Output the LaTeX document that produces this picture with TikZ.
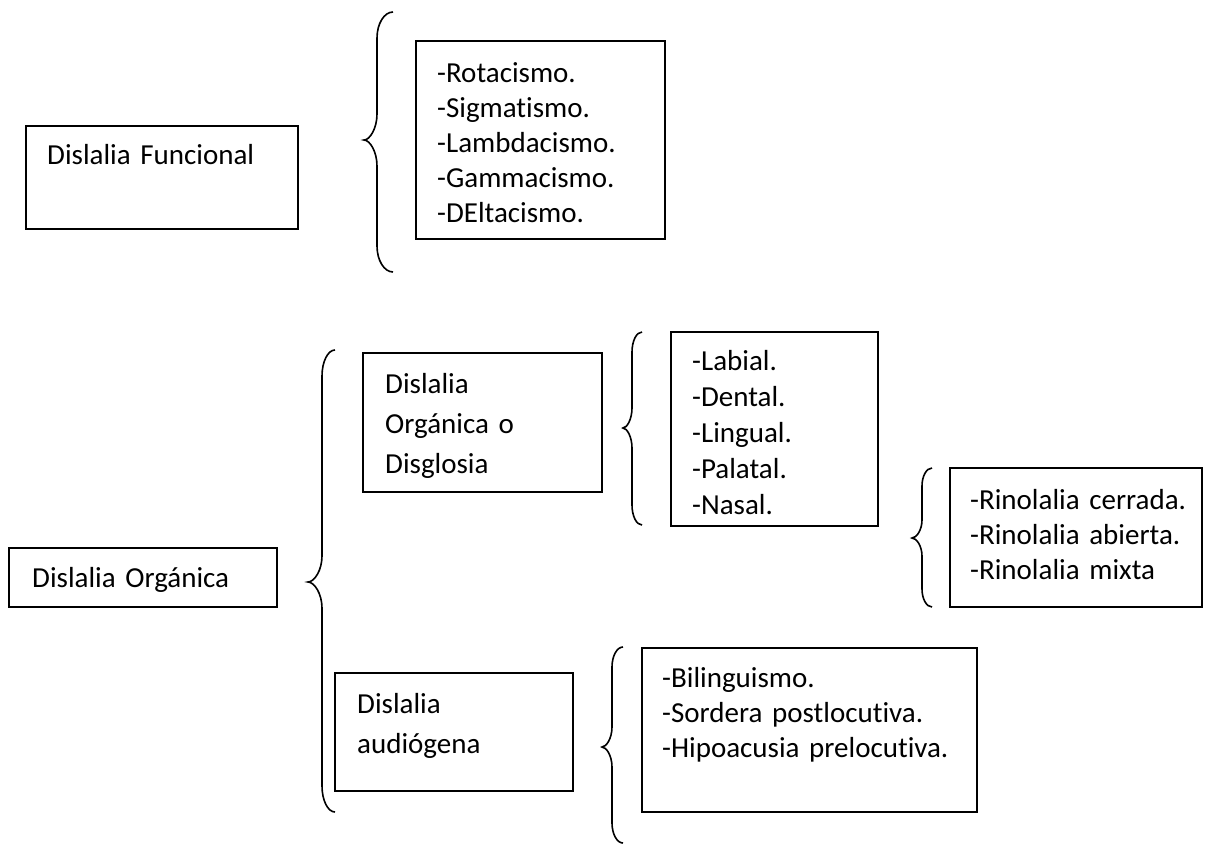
\documentclass[tikz,border=0pt]{standalone}
\usepackage{fontspec}
\setmainfont{Carlito}[Ligatures=CommonOff]
\newcommand{\drawbrace}[7]{%
  % #1 hook x, #2 stem x, #3 tip x, #4 top y, #5 tip y, #6 bottom y, #7 hook length
  \draw[bracestyle] (#1,#4) .. controls ({#2+0.45*(#1-#2)},#4) and (#2,{#4+0.45*#7}) .. (#2,{#4+#7})
    -- (#2,{#5-#7}) .. controls (#2,{#5-0.45*#7}) and ({#3+0.45*(#2-#3)},#5) .. (#3,#5)
    .. controls ({#3+0.45*(#2-#3)},#5) and (#2,{#5+0.45*#7}) .. (#2,{#5+#7})
    -- (#2,{#6-#7}) .. controls (#2,{#6-0.45*#7}) and ({#2+0.45*(#1-#2)},#6) .. (#1,#6);}
\tikzset{
  box/.style={draw, line width=1.6pt, inner sep=0pt, outer sep=0pt, anchor=north west},
  txt/.style={anchor=base west, inner sep=0pt, align=left, text width=330pt},
  bracestyle/.style={line width=1.6pt},
  sp35/.style={font=\fontsize{29}{35}\selectfont},
  sp36/.style={font=\fontsize{29}{36}\selectfont},
  sp40/.style={font=\fontsize{29}{40}\selectfont}
}
\begin{document}
\begin{tikzpicture}[x=1pt,y=-1pt]
\useasboundingbox (0,0) rectangle (1207,844);
% Dislalia Funcional
\node[box, minimum width=272pt, minimum height=103pt] (fun) at (26,126) {};
\node[txt, sp35] (funt) at (47,164) {Dislalia Funcional};
\drawbrace{393}{377}{364}{12}{140}{272}{26}
\node[box, minimum width=249pt, minimum height=198pt] (rot) at (416,41) {};
\node[txt, sp35] (rott) at (437,82) {-Rotacismo.\\-Sigmatismo.\\-Lambdacismo.\\-Gammacismo.\\-DEltacismo.};
% Dislalia Organica
\node[box, minimum width=268pt, minimum height=59pt] (org) at (9,548) {};
\node[txt, sp35] (orgt) at (32,587) {Dislalia Orgánica};
\drawbrace{335}{322}{308}{350}{582}{812}{26}
% Disglosia
\node[box, minimum width=239pt, minimum height=139pt] (dis) at (363,353) {};
\node[txt, sp40] (dist) at (385,393) {Dislalia\\Orgánica o\\Disglosia};
\drawbrace{642}{632}{623}{332}{428}{525}{20}
\node[box, minimum width=207pt, minimum height=194pt] (lab) at (671,332) {};
\node[txt, sp36] (labt) at (692,370) {-Labial.\\-Dental.\\-Lingual.\\-Palatal.\\-Nasal.};
\drawbrace{932}{922}{912}{468}{538}{607}{18}
\node[box, minimum width=252pt, minimum height=139pt] (rin) at (950,468) {};
\node[txt, sp35] (rint) at (970,509) {-Rinolalia cerrada.\\-Rinolalia abierta.\\-Rinolalia mixta};
% Audiogena
\node[box, minimum width=238pt, minimum height=118pt] (aud) at (335,673) {};
\node[txt, sp40] (audt) at (357,713) {Dislalia\\audiógena};
\drawbrace{623}{612}{602}{647}{747}{843}{20}
\node[box, minimum width=335pt, minimum height=164pt] (bil) at (642,648) {};
\node[txt, sp35] (bilt) at (662,687) {-Bilinguismo.\\-Sordera postlocutiva.\\-Hipoacusia prelocutiva.};
\end{tikzpicture}
\end{document}
